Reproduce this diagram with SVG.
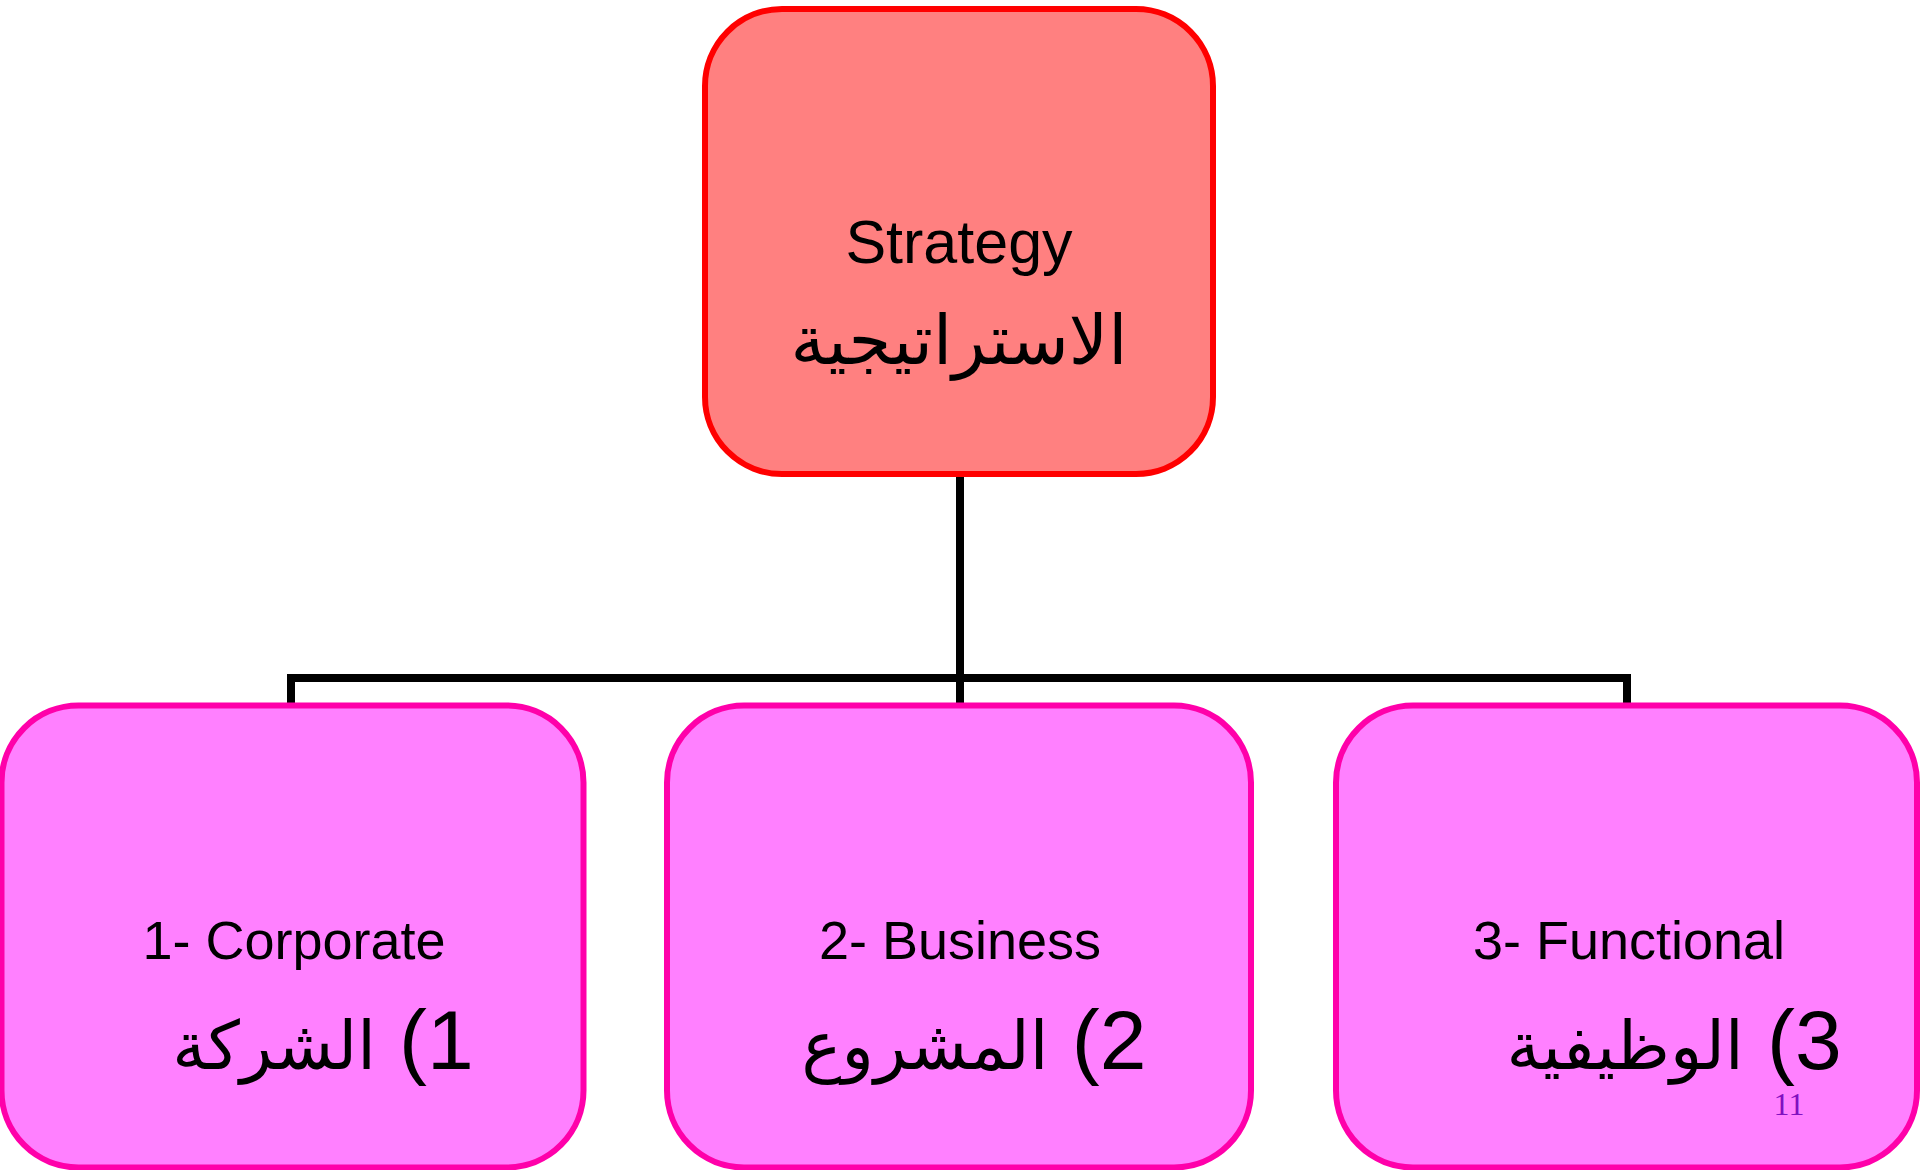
<svg xmlns="http://www.w3.org/2000/svg" width="1920" height="1170" viewBox="0 0 1920 1170">
  <style>
    .top { fill: #FF8080; stroke: #FF0000; stroke-width: 6; }
    .sub { fill: #FF80FF; stroke: #FF00AA; stroke-width: 6; }
    .en { font-family: "Liberation Sans", Arial, sans-serif; fill: #000; text-anchor: middle; }
    .ar { font-family: "Liberation Sans", "DejaVu Sans", sans-serif; fill: #000; text-anchor: middle; }
    .aw { font-size: 67px; }
    .conn { fill: none; stroke: #000; stroke-width: 8; stroke-linejoin: miter; }
  </style>
  <rect width="1920" height="1170" fill="#FFFFFF"/>
  <g id="connectors">
    <path class="conn" d="M960 474 V678"/>
    <path class="conn" d="M291 705 V678 H1627 V705"/>
    <path class="conn" d="M960 678 V705"/>
  </g>
  <g id="node-strategy">
    <rect class="top" x="705" y="9" width="508" height="465" rx="77" ry="77"/>
    <text class="en" x="959" y="263" font-size="61">Strategy</text>
    <text class="ar" x="959" y="364" font-size="69" direction="rtl">الاستراتيجية</text>
  </g>
  <g id="node-corporate">
    <rect class="sub" x="1.5" y="705.5" width="582" height="462" rx="77" ry="77"/>
    <text class="en" x="294" y="959" font-size="54">1- Corporate</text>
    <text class="ar" x="323" y="1069" font-size="84" direction="rtl" unicode-bidi="embed">1) <tspan class="aw">الشركة</tspan></text>
  </g>
  <g id="node-business">
    <rect class="sub" x="667" y="705.5" width="584" height="462" rx="77" ry="77"/>
    <text class="en" x="960" y="959" font-size="54">2- Business</text>
    <text class="ar" x="974" y="1069" font-size="84" direction="rtl" unicode-bidi="embed">2) <tspan class="aw">المشروع</tspan></text>
  </g>
  <g id="node-functional">
    <rect class="sub" x="1336" y="705.5" width="581" height="462" rx="77" ry="77"/>
    <text class="en" x="1629" y="959" font-size="54">3- Functional</text>
    <text class="ar" x="1674" y="1069" font-size="84" direction="rtl" unicode-bidi="embed">3) <tspan class="aw">الوظيفية</tspan></text>
    <text x="1789" y="1115" font-family="'Liberation Serif', 'Times New Roman', serif" font-size="32" fill="#8010C0" text-anchor="middle">11</text>
  </g>
</svg>
